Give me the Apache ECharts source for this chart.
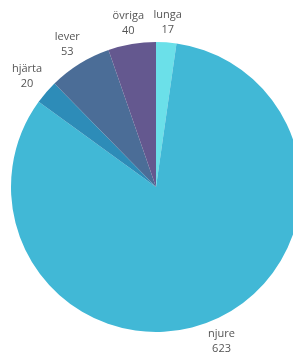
<!DOCTYPE html>
<html>
<head>
<meta charset="utf-8">
<script src="https://cdn.jsdelivr.net/npm/echarts@6/dist/echarts.min.js"></script>
<style>
  html, body { margin: 0; padding: 0; background: #fff; }
  #chart { width: 293px; height: 354px; }
</style>
</head>
<body>
<div id="chart"></div>
<script>
  // organ names and counts, clockwise from 12 o'clock
  const organs = ['lunga', 'njure', 'hjärta', 'lever', 'övriga'];
  const counts = [17, 623, 20, 53, 40];
  const colors = ['#6be0e9', '#41b8d6', '#2d8cb8', '#4b6d97', '#64588f'];

  const cx = 156, cy = 187, R = 145;
  const total = counts.reduce((a, b) => a + b, 0);

  // mid angle of each slice (radians, clockwise from top)
  function midAngle(i) {
    let before = 0;
    for (let k = 0; k < i; k++) before += counts[k];
    return (before + counts[i] / 2) / total * Math.PI * 2;
  }

  const chart = echarts.init(document.getElementById('chart'));
  chart.setOption({
    animation: false,
    color: colors,
    series: [{
      type: 'pie',
      center: [cx, cy],
      radius: R,
      startAngle: 90,
      clockwise: true,
      avoidLabelOverlap: false,
      data: organs.map((n, i) => ({ name: n, value: counts[i] })),
      label: {
        show: true,
        position: 'outside',
        formatter: '{b}\n{c}',
        fontFamily: 'Open Sans',
        fontSize: 11,
        lineHeight: 15,
        color: '#555'
      },
      labelLine: { show: false, length: 8, length2: 0 },
      // centre each label block just outside its slice
      labelLayout: function (p) {
        const a = midAngle(p.dataIndex);
        const s = Math.sin(a), c = Math.cos(a);
        const w = p.labelRect.width, h = p.labelRect.height;
        const d = R + 4 + Math.abs(s) * w / 2 + Math.abs(c) * h / 2;
        return {
          x: cx + s * d,
          y: cy - c * d,
          align: 'center',
          verticalAlign: 'middle'
        };
      },
      itemStyle: { borderWidth: 0 }
    }]
  });
</script>
</body>
</html>
